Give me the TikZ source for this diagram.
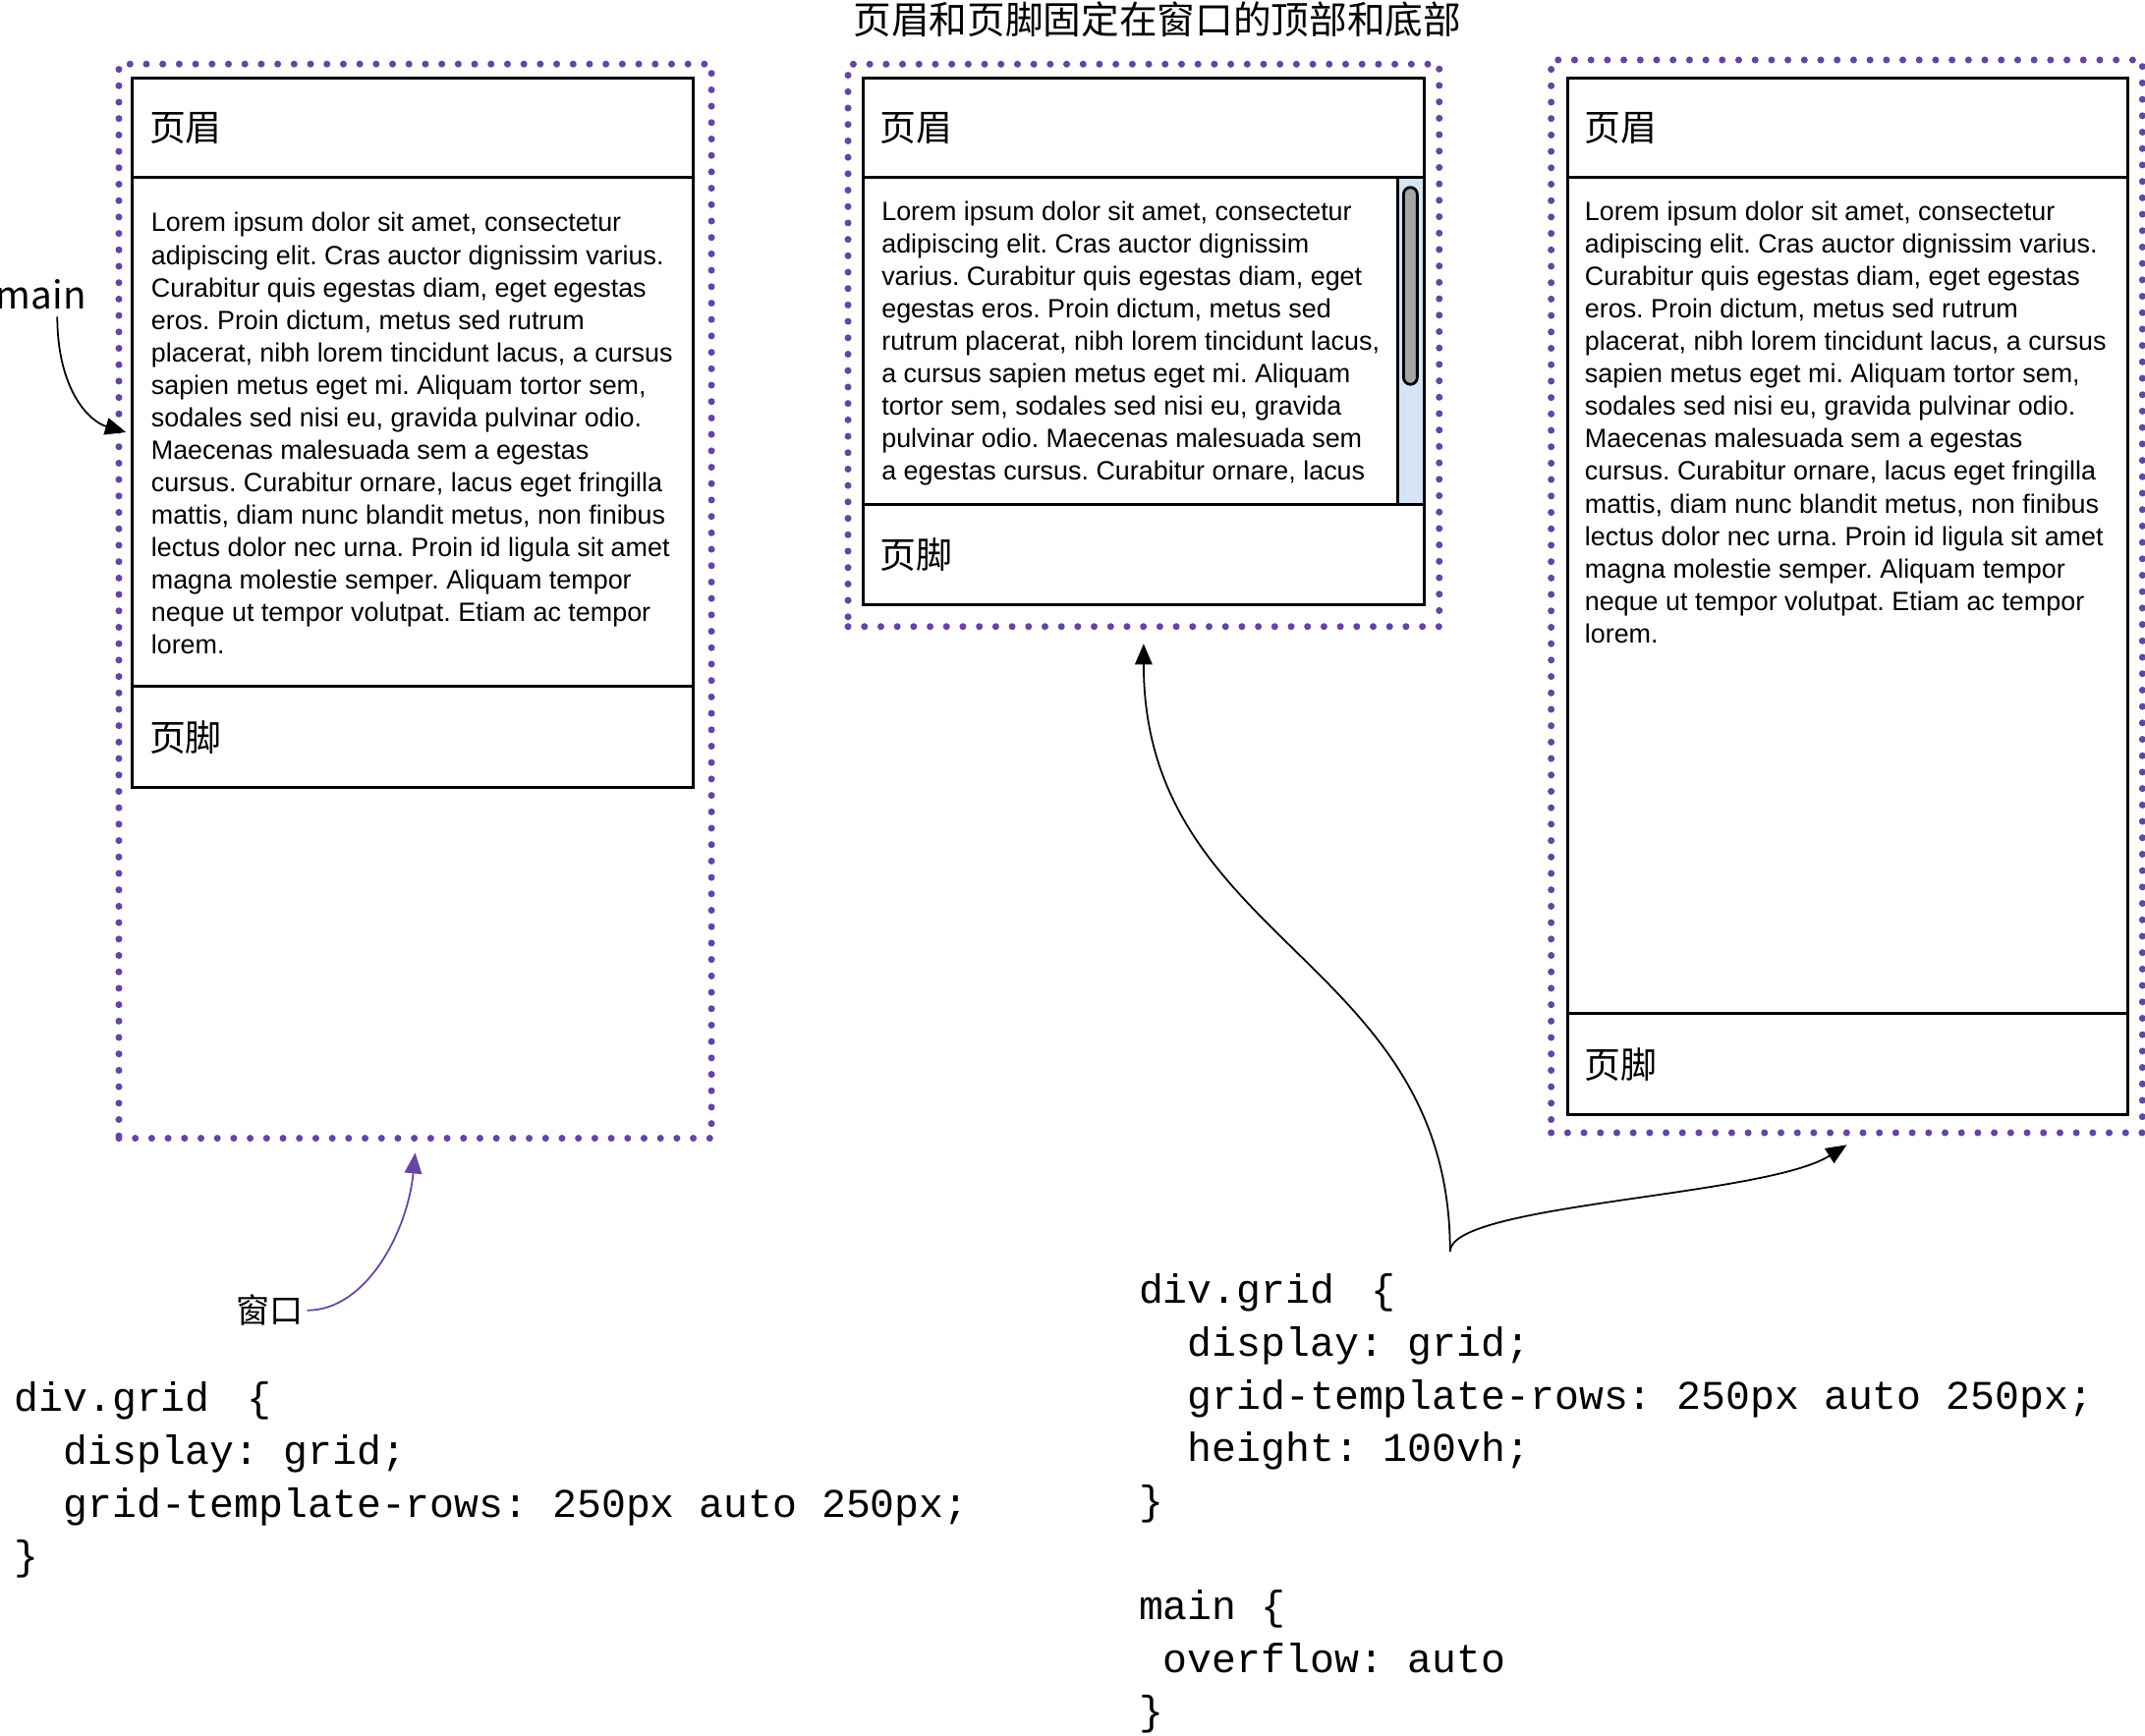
\documentclass[tikz,border=0pt]{standalone}
\usepackage{fontspec}
\setmainfont{Liberation Sans}
\setmonofont{Liberation Mono}
\newfontfamily\cjk{Noto Sans CJK SC}
\usetikzlibrary{arrows.meta,positioning}
\frenchspacing

\definecolor{winpurple}{RGB}{102,68,160}
\definecolor{barblue}{RGB}{214,228,245}
\definecolor{thumbgray}{RGB}{165,165,165}

% one pixel of the layout
\def\pxu{0.3961pt}

\newcommand{\loremwide}{Lorem ipsum dolor sit amet, consectetur\\
adipiscing elit. Cras auctor dignissim varius.\\
Curabitur quis egestas diam, eget egestas\\
eros. Proin dictum, metus sed rutrum\\
placerat, nibh lorem tincidunt lacus, a cursus\\
sapien metus eget mi. Aliquam tortor sem,\\
sodales sed nisi eu, gravida pulvinar odio.\\
Maecenas malesuada sem a egestas\\
cursus. Curabitur ornare, lacus eget fringilla\\
mattis, diam nunc blandit metus, non finibus\\
lectus dolor nec urna. Proin id ligula sit amet\\
magna molestie semper. Aliquam tempor\\
neque ut tempor volutpat. Etiam ac tempor\\
lorem.}

\newcommand{\loremnarrow}{Lorem ipsum dolor sit amet, consectetur\\
adipiscing elit. Cras auctor dignissim\\
varius. Curabitur quis egestas diam, eget\\
egestas eros. Proin dictum, metus sed\\
rutrum placerat, nibh lorem tincidunt lacus,\\
a cursus sapien metus eget mi. Aliquam\\
tortor sem, sodales sed nisi eu, gravida\\
pulvinar odio. Maecenas malesuada sem\\
a egestas cursus. Curabitur ornare, lacus}

\tikzset{
  frame/.style={draw=winpurple, line width=2pt, dash pattern=on 0pt off 4.75pt,
    line cap=round, inner sep=0pt},
  pane/.style={draw, line width=0.85pt, inner sep=0pt},
  cjklabel/.style={font=\cjk\fontsize{10.5}{12}\selectfont, inner sep=0pt, anchor=west},
  lorem/.style={font=\fontsize{7.65}{9.39}\selectfont, align=left, inner sep=0pt, anchor=north west},
  code/.style={font=\ttfamily\fontsize{11.8}{15.25}\selectfont, align=left, inner sep=0pt, anchor=north west},
  tip/.style={-{Triangle[length=6pt,width=5pt]}, line width=0.5pt},
}

\begin{document}
\begin{tikzpicture}[x=0.01392cm, y=-0.01392cm]
  \useasboundingbox (0,0) rectangle (1568,1269);

  \node[font=\cjk\fontsize{11}{13}\selectfont, inner sep=0pt] (title) at (846,14) {页眉和页脚固定在窗口的顶部和底部};

  % left: grid without height
  \node[frame, minimum width=433*\pxu, minimum height=785*\pxu] (frame1) at (303.5,439.5) {};
  \node[pane, minimum width=410*\pxu, minimum height=73*\pxu] (h1) at (302,93.5) {};
  \node[pane, minimum width=410*\pxu, minimum height=372*\pxu] (m1) at (302,316) {};
  \node[pane, minimum width=410*\pxu, minimum height=74*\pxu] (f1) at (302,539) {};
  \node[cjklabel, right=5.1pt of h1.west] (h1t) {页眉};
  \node[cjklabel, right=5.1pt of f1.west] (f1t) {页脚};
  \node[lorem] (m1t) at (110,155) {\loremwide};

  % middle: height 100vh, main scrolls
  \node[frame, minimum width=432*\pxu, minimum height=411*\pxu] (frame2) at (836,252.5) {};
  \node[pane, minimum width=410*\pxu, minimum height=73*\pxu] (h2) at (836,93.5) {};
  \node[pane, minimum width=410*\pxu, minimum height=239*\pxu] (m2) at (836,249.5) {};
  \node[pane, minimum width=410*\pxu, minimum height=73*\pxu] (f2) at (836,405.5) {};
  \node[pane, fill=barblue, minimum width=19*\pxu, minimum height=239*\pxu] (track) at (1031.5,249.5) {};
  \node[draw, line width=0.8pt, fill=thumbgray, rounded corners=2pt, inner sep=0pt,
        minimum width=10*\pxu, minimum height=144*\pxu] (thumb) at (1031,209) {};
  \node[cjklabel, right=5.1pt of h2.west] (h2t) {页眉};
  \node[cjklabel, right=5.1pt of f2.west] (f2t) {页脚};
  \node[lorem] (m2t) at (644,147) {\loremnarrow};

  % right: height 100vh, main grows
  \node[frame, minimum width=432*\pxu, minimum height=784*\pxu] (frame3) at (1350,436) {};
  \node[pane, minimum width=409*\pxu, minimum height=73*\pxu] (h3) at (1350.5,93.5) {};
  \node[pane, minimum width=409*\pxu, minimum height=611*\pxu] (m3) at (1350.5,435.5) {};
  \node[pane, minimum width=409*\pxu, minimum height=74*\pxu] (f3) at (1350.5,778) {};
  \node[cjklabel, right=5.1pt of h3.west] (h3t) {页眉};
  \node[cjklabel, right=5.1pt of f3.west] (f3t) {页脚};
  \node[lorem] (m3t) at (1158,147) {\loremwide};

  % labels and code
  \node[font=\cjk\fontsize{11}{13}\selectfont, inner sep=0pt] (mainlbl) at (30,215) {main};
  \node[font=\cjk\fontsize{9.7}{11}\selectfont, inner sep=0pt] (win) at (197,958) {窗口};
  \node[code] (code1) at (10,1010) {div.grid~\hspace{3.6pt}\{\\~~display:~grid;\\~~grid-template-rows:~250px~auto~250px;\\\}};
  \node[code] (code2) at (832,931) {div.grid~\hspace{3.6pt}\{\\~~display:~grid;\\~~grid-template-rows:~250px~auto~250px;\\~~height:~100vh;\\\}\\~\\main~\{\\~overflow:~auto\\\}};
  \coordinate (fork) at (1060,915);

  \draw[tip] ([xshift=4.7pt,yshift=-2pt]mainlbl.south) .. controls (42,285) and (65,308) .. ([xshift=-1.5pt]m1.west);
  \draw[tip, winpurple] ([xshift=1pt]win.east) .. controls (268,958) and (298,900) .. ([yshift=-3.2pt]frame1.south);
  \draw[tip] (fork) .. controls (1060,700) and (836,690) .. ([yshift=-4pt]frame2.south);
  \draw[tip] (fork) .. controls (1060,880) and (1290,875) .. ([yshift=-2.5pt]frame3.south);
\end{tikzpicture}
\end{document}
